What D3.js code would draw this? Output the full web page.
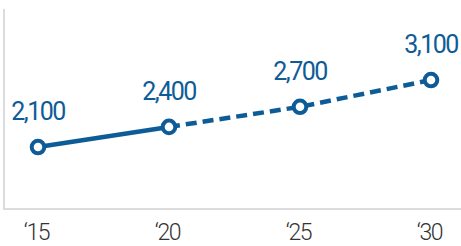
<!DOCTYPE html>
<html>
<head>
<meta charset="utf-8">
<script src="https://cdn.jsdelivr.net/npm/d3@7"></script>
<style>
  html, body { margin: 0; padding: 0; background: #fff; }
  text { font-family: Roboto, "Liberation Sans", sans-serif; }
</style>
</head>
<body>
<div id="chart"></div>
<script>
// chart data
var years = [2015, 2020, 2025, 2030];
var tickLabels = ["\u201815", "\u201820", "\u201825", "\u201830"];
var values = [2100, 2400, 2700, 3100];
var valueLabels = ["2,100", "2,400", "2,700", "3,100"];
var actualCount = 2; // first two points are actual, rest projected

var width = 461, height = 246;
var blue = "#0e5c97";

var svg = d3.select("#chart")
  .append("svg")
  .attr("width", width)
  .attr("height", height);

var x = d3.scaleLinear().domain([2015, 2030]).range([38, 431]);
var y = d3.scaleLinear().domain([1175, 4160]).range([209, 9]);

var data = years.map(function (yr, i) {
  return { year: yr, value: values[i], label: valueLabels[i] };
});

// left axis line
svg.append("line")
  .attr("x1", 4).attr("x2", 4)
  .attr("y1", y.range()[1]).attr("y2", y.range()[0])
  .attr("stroke", "#dcdcdc")
  .attr("stroke-width", 2);

// bottom axis
var xAxis = d3.axisBottom(x)
  .tickValues(years)
  .tickSize(0)
  .tickPadding(31)
  .tickFormat(function (d, i) { return tickLabels[i]; });

var gx = svg.append("g")
  .attr("transform", "translate(0," + y.range()[0] + ")")
  .call(xAxis);

gx.select(".domain").remove();
gx.append("line")
  .attr("x1", 3).attr("x2", width)
  .attr("y1", 0).attr("y2", 0)
  .attr("stroke", "#dcdcdc")
  .attr("stroke-width", 2);

// baseline sits at the padding
gx.selectAll(".tick text")
  .attr("font-size", 23)
  .attr("font-weight", 300)
  .attr("fill", "#333")
  .attr("dx", -2)
  .attr("dy", 0)
  .style("letter-spacing", "-1.4px");

var line = d3.line()
  .x(function (d) { return x(d.year); })
  .y(function (d) { return y(d.value); });

// solid part
svg.append("path")
  .datum(data.slice(0, actualCount))
  .attr("fill", "none")
  .attr("stroke", blue)
  .attr("stroke-width", 4.5)
  .attr("d", line);

// dashed projection
svg.append("path")
  .datum(data.slice(actualCount - 1))
  .attr("fill", "none")
  .attr("stroke", blue)
  .attr("stroke-width", 4.5)
  .attr("stroke-dasharray", "11,6")
  .attr("d", line);

// markers
svg.append("g")
  .selectAll("circle")
  .data(data)
  .enter().append("circle")
  .attr("cx", function (d) { return x(d.year); })
  .attr("cy", function (d) { return y(d.value); })
  .attr("r", 6.3)
  .attr("fill", "#fff")
  .attr("stroke", blue)
  .attr("stroke-width", 4);

// value labels
svg.append("g")
  .selectAll("text")
  .data(data)
  .enter().append("text")
  .attr("x", function (d) { return x(d.year); })
  .attr("y", function (d) { return y(d.value) - 27; })
  .attr("text-anchor", "middle")
  .attr("font-size", 25)
  .attr("fill", blue)
  .style("letter-spacing", "-1.5px")
  .text(function (d) { return d.label; });
</script>
</body>
</html>
